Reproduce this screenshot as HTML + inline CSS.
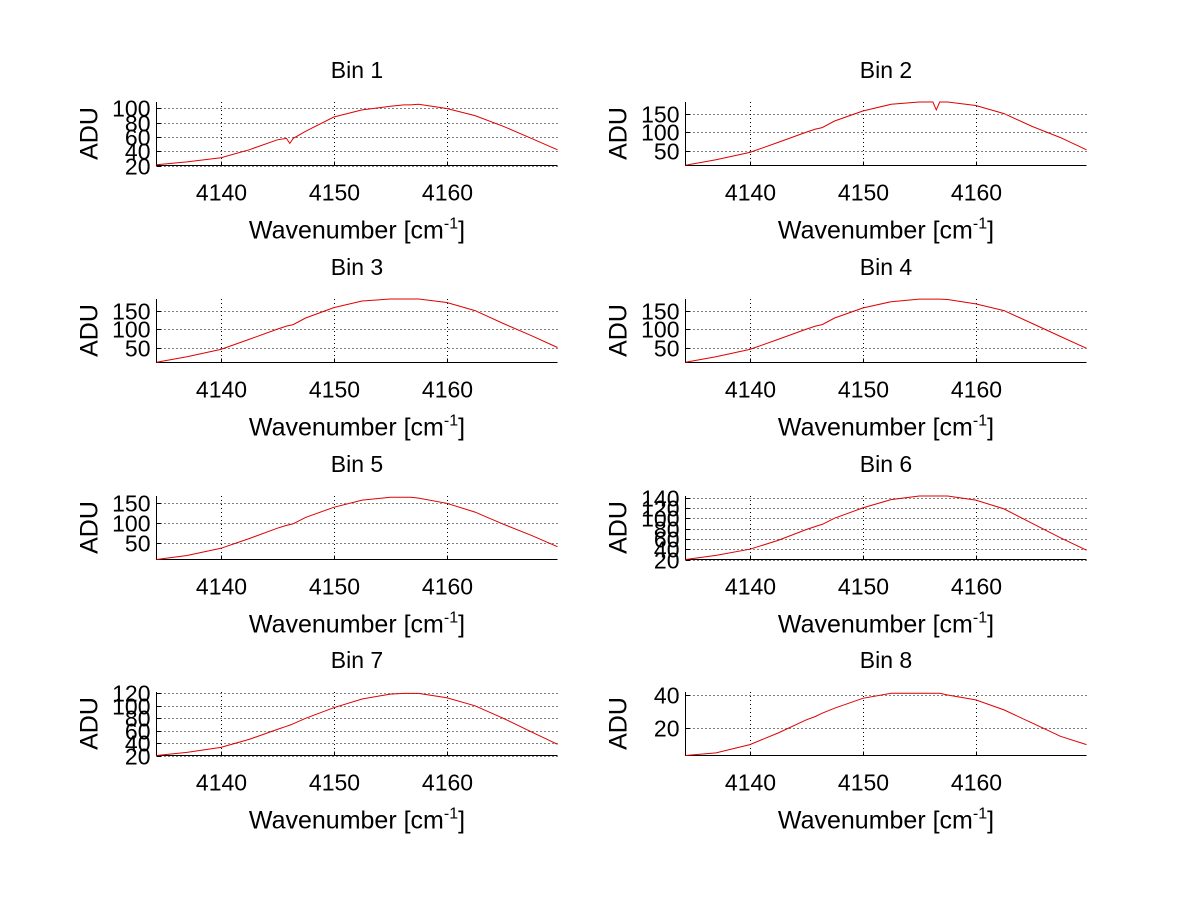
<!DOCTYPE html>
<html><head><meta charset="utf-8"><style>
body{margin:0;background:#fff;}
svg text{font-family:"Liberation Sans",sans-serif;fill:#000;}
</style></head><body>
<svg id="fig" width="1200" height="901" xmlns="http://www.w3.org/2000/svg"></svg>
<script>
const wavenumbers=[4134.3,4137,4140,4142.5,4145,4145.8,4146.1,4146.4,4147.5,4150,4152.5,4155,4156.2,4156.5,4156.8,4157.5,4160,4162.5,4165,4167.5,4169.8];
const bin1=[21,25,31,42,56,58,51,58,68,88,98,103,105,105,105,106,100,90,75,58,42];
const bin2=[10,25,45,72,100,108,110,112,130,157,175,182,183,160,183,183,172,150,115,85,52];
const bin3=[10,25,45,72,100,108,110,112,130,158,176,183,183,183,183,182,172,150,115,82,50];
const bin4=[10,25,45,72,100,108,110,112,130,157,174,181,181,181,181,180,168,150,115,80,48];
const bin5=[8,20,38,62,88,95,97,99,115,140,158,165,165,165,165,163,150,128,98,70,42];
const bin6=[20,28,40,57,78,84,86,88,100,120,136,143,143,143,143,143,135,118,90,62,38];
const bin7=[20,25,33,46,62,67,69,71,80,97,111,119,120,120,120,120,113,100,80,58,38];
const bin8=[2,5,10,17,25,27,28,29,32,38,41,41,41,41,41,40,37,31,23,15,10];
const series=[bin1,bin2,bin3,bin4,bin5,bin6,bin7,bin8];
const titles=["Bin 1","Bin 2","Bin 3","Bin 4","Bin 5","Bin 6","Bin 7","Bin 8"];
const yLims=[[20,108.4],[9.5,180],[9.5,180],[9.5,180],[10,167],[20,142],[20,121.5],[3.4,41.5]];
const yTicks=[[20,40,60,80,100],[50,100,150],[50,100,150],[50,100,150],[50,100,150],[20,40,60,80,100,120,140],[20,40,60,80,100,120],[20,40]];
const xTicks=[4140,4150,4160];
const xLim=[4134.3,4169.8];

const NS="http://www.w3.org/2000/svg";
const svg=document.getElementById('fig');
function mk(tag,attrs,parent){const e=document.createElementNS(NS,tag);for(const k in attrs)e.setAttribute(k,attrs[k]);(parent||svg).appendChild(e);return e;}
const cols=[156,685], W=401, tops=[102,299,496,692], H=63;
for(let i=0;i<8;i++){
  const L=cols[i%2]+0.5, T=tops[Math.floor(i/2)], B=T+H+0.5, R=L+W;
  const g=mk('g',{});
  
  
  const xs=v=>L+(v-xLim[0])/(xLim[1]-xLim[0])*W;
  const [y0,y1]=yLims[i];
  const ys=v=>B-(v-y0)/(y1-y0)*H;
  xTicks.forEach(t=>{const x=Math.round(xs(t))+0.5;const l=mk('line',{x1:x,x2:x,y1:T,y2:B,stroke:'#000','stroke-width':1,'stroke-dasharray':'1,3'},g);
    });
  yTicks[i].forEach(t=>{const y=Math.round(ys(t))+0.5;if(y<T-1||y>B+1)return;
    const l=mk('line',{x1:L,x2:R,y1:y,y2:y,stroke:'#000','stroke-width':1,'stroke-dasharray':'1,3'},g);
    
    mk('line',{x1:L,x2:L+4,y1:y,y2:y,stroke:'#000'},g);
    const tx=mk('text',{x:L-6,y:y+8,'font-size':23,'text-anchor':'end'},g);tx.textContent=t;
    });
  xTicks.forEach(t=>{const x=Math.round(xs(t))+0.5;mk('line',{x1:x,x2:x,y1:B,y2:B-4,stroke:'#000'},g);
    const tx=mk('text',{x:x,y:B+35,'font-size':23,'text-anchor':'middle'},g);tx.textContent=t;
    });
  const ax=mk('path',{d:`M${L},${T}V${B}H${R}`,fill:'none',stroke:'#000','stroke-width':1},g);
  
  let pts=wavenumbers.map((w,k)=>xs(w).toFixed(1)+','+Math.max(T,Math.min(B,ys(series[i][k]))).toFixed(1)).join(' ');
  const pl=mk('polyline',{points:pts,fill:'none',stroke:'#e00000','stroke-width':1},g);
  
  const ti=mk('text',{x:L+W/2,y:T-24,'font-size':23,'text-anchor':'middle'},g);ti.textContent=titles[i];
  
  const xl=mk('text',{x:L+W/2,y:B+73,'font-size':25,'text-anchor':'middle'},g);
  xl.innerHTML='Wavenumber [cm<tspan dy="-10" font-size="16">-1</tspan><tspan dy="10">]</tspan>';
  
  const yl=mk('text',{x:0,y:0,'font-size':25,'text-anchor':'middle',transform:`translate(${L-59},${T+H/2}) rotate(-90)`},g);yl.textContent='ADU';
  
}
</script>
</body></html>
